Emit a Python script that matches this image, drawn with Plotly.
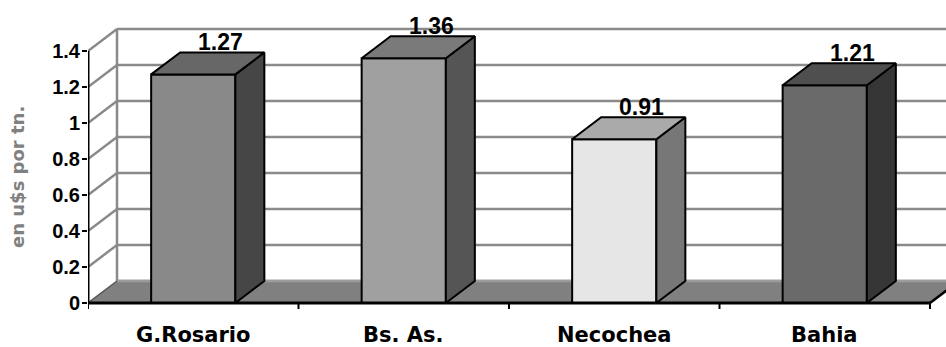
import plotly.graph_objects as go

# ---- data ----
categories = ["G.Rosario", "Bs. As.", "Necochea", "Bahia"]
values = [1.27, 1.36, 0.91, 1.21]
value_labels = ["1.27", "1.36", "0.91", "1.21"]
y_ticks = [0, 0.2, 0.4, 0.6, 0.8, 1.0, 1.2, 1.4]
y_tick_labels = ["0", "0.2", "0.4", "0.6", "0.8", "1", "1.2", "1.4"]
y_title = "en u$s por tn."

# ---- styles ----
front_colors = ["#898989", "#a0a0a0", "#e6e6e6", "#6a6a6a"]
top_colors = ["#676767", "#7a7a7a", "#aaaaaa", "#4f4f4f"]
side_colors = ["#464646", "#555555", "#777777", "#363636"]
grid_color = "#8a8a8a"
floor_color = "#808080"

W, H = 946, 347
ML, MR, MT, MB = 88, 0, 0, 35
PX_X = 210.5          # px per category
PX_Y = 180.0          # px per unit
DX = 29 / PX_X        # 3D depth offsets in data units
DY = 22 / PX_Y
BAR_W = 0.4

n = len(categories)
x_left = -0.5
x_right_front = n - 0.5
x_max = x_left + (W - ML - MR) / PX_X
y_min = -(H - MB - 303) / PX_Y
y_max = 303 / PX_Y
ymax_tick = y_ticks[-1]

fig = go.Figure()

shapes = []
# back wall gridlines and left-wall diagonals
for v in y_ticks:
    shapes.append(dict(type="line", xref="x", yref="y", layer="below",
                       x0=x_left + DX, x1=x_right_front + DX, y0=v + DY, y1=v + DY,
                       line=dict(color=grid_color, width=2.5)))
    if v > 0:
        shapes.append(dict(type="line", xref="x", yref="y", layer="below",
                           x0=x_left, x1=x_left + DX, y0=v, y1=v + DY,
                           line=dict(color=grid_color, width=2.5)))
shapes.append(dict(type="line", xref="x", yref="y", layer="below",
                   x0=x_left + DX, x1=x_left + DX, y0=DY, y1=ymax_tick + DY,
                   line=dict(color=grid_color, width=2.5)))
# floor
shapes.append(dict(type="path", xref="x", yref="y", layer="below",
                   path=f"M {x_left},0 L {x_right_front},0 L {x_right_front + DX},{DY} "
                        f"L {x_left + DX},{DY} Z",
                   fillcolor=floor_color, line=dict(width=0)))
shapes.append(dict(type="line", xref="x", yref="y", layer="below",
                   x0=x_left + DX, x1=x_right_front + DX, y0=DY, y1=DY,
                   line=dict(color="#9c9c9c", width=2.5)))
shapes.append(dict(type="line", xref="x", yref="y", layer="below",
                   x0=x_left, x1=x_left + DX, y0=0, y1=DY,
                   line=dict(color="#555555", width=1.5)))
shapes.append(dict(type="line", xref="x", yref="y", layer="above",
                   x0=x_right_front, x1=x_right_front + DX, y0=0, y1=DY,
                   line=dict(color="black", width=2.5)))
# front axes
shapes.append(dict(type="line", xref="x", yref="y", layer="above",
                   x0=x_left, x1=x_right_front, y0=0, y1=0,
                   line=dict(color="black", width=3)))
shapes.append(dict(type="line", xref="x", yref="y", layer="above",
                   x0=x_left, x1=x_left, y0=0, y1=ymax_tick,
                   line=dict(color="black", width=3)))
# category boundary ticks
for k in range(n + 1):
    xb = x_left + k
    shapes.append(dict(type="line", xref="x", yref="y", layer="above",
                       ysizemode="pixel", yanchor=0, y0=0, y1=-6,
                       x0=xb, x1=xb, line=dict(color="black", width=2)))

# front faces
fig.add_trace(go.Bar(
    x=list(range(n)), y=values, width=BAR_W,
    marker=dict(color=front_colors, line=dict(color="black", width=2)),
    showlegend=False, hoverinfo="skip"))

# top and side faces
for i, v in enumerate(values):
    xl, xr = i - BAR_W / 2, i + BAR_W / 2
    fig.add_trace(go.Scatter(
        x=[xr, xr + DX, xr + DX, xr, xr], y=[0, DY, v + DY, v, 0],
        fill="toself", fillcolor=side_colors[i], mode="lines",
        line=dict(color="black", width=2), showlegend=False, hoverinfo="skip"))
    fig.add_trace(go.Scatter(
        x=[xl, xr, xr + DX, xl + DX, xl], y=[v, v, v + DY, v + DY, v],
        fill="toself", fillcolor=top_colors[i], mode="lines",
        line=dict(color="black", width=2), showlegend=False, hoverinfo="skip"))

annotations = []
for i, v in enumerate(values):
    annotations.append(dict(
        x=i + 0.13, y=v + DY, xref="x", yref="y", text=value_labels[i],
        showarrow=False, yanchor="bottom", xanchor="center", yshift=-5,
        font=dict(family="Liberation Sans", size=23, color="black", weight="bold")))
for i, c in enumerate(categories):
    annotations.append(dict(
        x=i, y=0, xref="x", yref="y", text=c, showarrow=False,
        yanchor="top", xanchor="center", yshift=-18,
        font=dict(family="DejaVu Sans", size=21, color="black", weight="bold")))
annotations.append(dict(
    x=(17 - ML) / (W - ML - MR), y=(H - MB - 177) / (H - MB - MT),
    xref="paper", yref="paper", text=y_title, showarrow=False, textangle=-90,
    xanchor="center", yanchor="middle",
    font=dict(family="DejaVu Sans", size=18, color="#808080", weight="bold")))

fig.update_layout(
    width=W, height=H,
    margin=dict(l=ML, r=MR, t=MT, b=MB, pad=0),
    paper_bgcolor="white", plot_bgcolor="white",
    shapes=shapes, annotations=annotations, showlegend=False,
    xaxis=dict(range=[x_left, x_max], showgrid=False, zeroline=False,
               showticklabels=False, ticks="", showline=False, fixedrange=True),
    yaxis=dict(range=[y_min, y_max], showgrid=False, zeroline=False,
               tickmode="array", tickvals=y_ticks, ticktext=y_tick_labels,
               ticks="outside", ticklen=5, tickwidth=2, tickcolor="black",
               showline=False, fixedrange=True, ticklabelstandoff=-2,
               tickfont=dict(family="Liberation Sans", size=20, color="black",
                             weight="bold")),
)

fig.write_html(
    "out.html",
    config={"displayModeBar": False},
    post_script="document.body.style.margin='0';document.body.style.overflow='hidden';",
)
